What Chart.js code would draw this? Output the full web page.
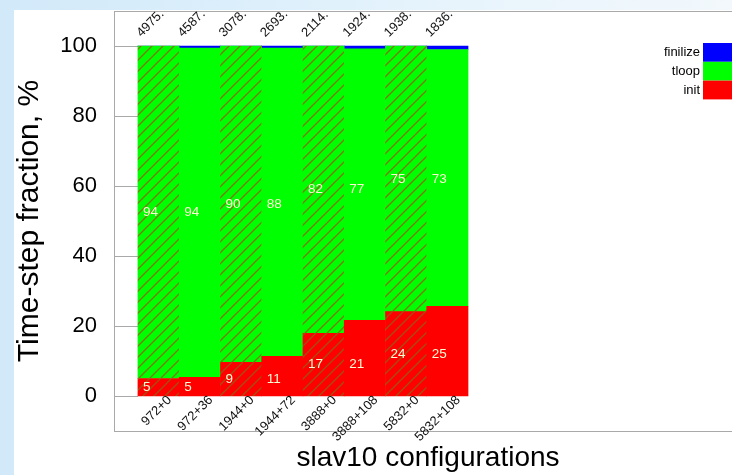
<!DOCTYPE html>
<html>
<head>
<meta charset="utf-8">
<script src="https://cdn.jsdelivr.net/npm/chart.js@4.4.1/dist/chart.umd.min.js"></script>
<style>
  html, body { margin: 0; padding: 0; width: 732px; height: 475px; overflow: hidden; }
  body { position: relative; background: linear-gradient(to right, #d2e9f9 0%, #dcefFb 35%, #eaf5fc 70%, #f2f8fc 100%); }
  #panel { position: absolute; left: 14px; top: 10px; width: 760px; height: 480px; background: #ffffff; }
  #wrap { position: absolute; left: 0; top: 0; width: 760px; height: 475px; }
</style>
</head>
<body>
<div id="panel"></div>
<div id="wrap"><canvas id="chart" width="760" height="475"></canvas></div>
<script>
// slav10 runs: share of each phase in one time step, %
const configs     = ['972+0', '972+36', '1944+0', '1944+72', '3888+0', '3888+108', '5832+0', '5832+108'];
const initPct     = [5.0, 5.3, 9.6, 11.3, 17.9, 21.6, 24.1, 25.6];
const tloopPct    = [94.95, 94.1, 90.35, 88.1, 82.05, 77.6, 75.85, 73.4];
const finilizePct = [0.05, 0.6, 0.05, 0.6, 0.05, 0.8, 0.05, 1.0];
// total run time printed above each bar
const totalTime   = [4975, 4587, 3078, 2693, 2114, 1924, 1938, 1836];
const yTickValues = [0, 20, 40, 60, 80, 100];

const FONT = '"Liberation Sans", Arial, Helvetica, sans-serif';
const canvas = document.getElementById('chart');
const ctx = canvas.getContext('2d');

// diagonal hatch used for the runs without extra processes ("+0")
function hatch(color) {
  const s = 11;
  const t = document.createElement('canvas');
  t.width = s; t.height = s;
  const g = t.getContext('2d');
  g.fillStyle = color;
  g.fillRect(0, 0, s, s);
  g.strokeStyle = 'rgba(145,95,20,0.8)';
  g.lineWidth = 1.4;
  g.beginPath();
  g.moveTo(-1, s + 1); g.lineTo(s + 1, -1);
  g.moveTo(-1, 1); g.lineTo(1, -1);
  g.moveTo(s - 1, s + 1); g.lineTo(s + 1, s - 1);
  g.stroke();
  return ctx.createPattern(t, 'repeat');
}

const isPlain = configs.map(c => c.endsWith('+0'));
function fills(color) {
  const p = hatch(color);
  return configs.map((c, i) => isPlain[i] ? p : color);
}
const points = arr => arr.map((v, i) => ({ x: i, y: v }));

const RED = '#ff0000', GREEN = '#00ff00', BLUE = '#0000ff';

// labels inside the bars are placed at the height of the matching "+0" run
function anchorIndex(i) {
  const base = configs[i].split('+')[0] + '+0';
  const j = configs.indexOf(base);
  return j >= 0 ? j : i;
}

const overlay = {
  id: 'overlay',
  beforeDatasetsDraw(chart) {
    const { ctx, chartArea: a, scales: { y } } = chart;
    ctx.save();
    ctx.strokeStyle = '#a9a9a9';
    ctx.lineWidth = 1;
    yTickValues.forEach(v => {
      const py = Math.round(y.getPixelForValue(v)) + 0.5;
      ctx.beginPath();
      ctx.moveTo(a.left, py);
      ctx.lineTo(a.left + 24, py);
      ctx.stroke();
    });
    ctx.restore();
  },
  afterDatasetsDraw(chart) {
    const { ctx, chartArea: a, scales: { x, y } } = chart;
    ctx.save();
    // frame
    ctx.strokeStyle = '#a9a9a9';
    ctx.lineWidth = 1;
    ctx.strokeRect(Math.round(a.left) + 0.5, Math.round(a.top) + 0.5, a.right - a.left, a.bottom - a.top);

    const half = (x.getPixelForValue(1) - x.getPixelForValue(0)) / 2;

    // percentages inside the bars
    ctx.font = '13.5px ' + FONT;
    ctx.fillStyle = '#fffbd2';
    ctx.textAlign = 'left';
    ctx.textBaseline = 'middle';
    configs.forEach((c, i) => {
      const j = anchorIndex(i);
      const left = x.getPixelForValue(i) - half + 5;
      ctx.fillText(String(Math.floor(initPct[i])), left, y.getPixelForValue(initPct[j] / 2));
      ctx.fillText(String(Math.floor(tloopPct[i])), left, y.getPixelForValue(initPct[j] + tloopPct[j] / 2));
    });

    // run time above the bars
    ctx.fillStyle = '#111';
    ctx.font = '13px ' + FONT;
    totalTime.forEach((t, i) => {
      ctx.save();
      ctx.translate(x.getPixelForValue(i) - half + 1, y.getPixelForValue(100) - 11);
      ctx.rotate(-Math.PI / 4);
      ctx.textAlign = 'left';
      ctx.textBaseline = 'middle';
      ctx.fillText(Math.floor(t) + '.', 0, 0);
      ctx.restore();
    });

    // configuration names under the bars
    ctx.font = '13px ' + FONT;
    configs.forEach((c, i) => {
      ctx.save();
      ctx.translate(x.getPixelForValue(i) + 11, y.getPixelForValue(0) + 2);
      ctx.rotate(-Math.PI / 4);
      ctx.textAlign = 'right';
      ctx.textBaseline = 'middle';
      ctx.fillText(c, 0, 0);
      ctx.restore();
    });

    // key, top entry first
    const keyTop = 43, row = 18.8, boxL = 703, boxW = 42;
    const ds = chart.data.datasets.slice().reverse();
    ctx.font = '13px ' + FONT;
    ctx.textAlign = 'right';
    ctx.textBaseline = 'middle';
    ds.forEach((d, k) => {
      const ty = keyTop + k * row;
      ctx.fillStyle = d.keyColor;
      ctx.fillRect(boxL, ty, boxW, row);
      ctx.fillStyle = '#000';
      ctx.fillText(d.label, boxL - 3, ty + row / 2);
    });
    ctx.restore();
  }
};

function noEdgePadding(s) {
  s.paddingTop = 0; s.paddingBottom = 0; s.paddingLeft = 0; s.paddingRight = 0;
}

new Chart(ctx, {
  type: 'bar',
  data: {
    datasets: [
      { label: 'init',     data: points(initPct),     backgroundColor: fills(RED),   keyColor: RED },
      { label: 'tloop',    data: points(tloopPct),    backgroundColor: fills(GREEN), keyColor: GREEN },
      { label: 'finilize', data: points(finilizePct), backgroundColor: fills(BLUE),  keyColor: BLUE }
    ]
  },
  options: {
    responsive: false,
    animation: false,
    events: [],
    layout: { padding: { top: 11, right: 18, left: 0, bottom: 0 } },
    datasets: { bar: { barPercentage: 1, categoryPercentage: 1, borderWidth: 0 } },
    plugins: { legend: { display: false }, tooltip: { enabled: false } },
    scales: {
      x: {
        type: 'linear', stacked: true, offset: false, min: -1.08, max: 14.14,
        afterBuildTicks(s) { s.ticks = configs.map((c, i) => ({ value: i })); },
        grid: { display: false, drawTicks: false },
        border: { display: false },
        ticks: { display: false },
        title: { display: true, text: 'slav10 configurations', color: '#000',
                 font: { family: FONT, size: 28 }, padding: { top: 0, bottom: 0 } },
        afterFit(s) { s.height = 44; noEdgePadding(s); }
      },
      y: {
        stacked: true, min: -10, max: 110,
        afterBuildTicks(s) { s.ticks = yTickValues.map(v => ({ value: v })); },
        grid: { display: false, drawTicks: false },
        border: { display: false },
        ticks: { color: '#000', padding: 17, font: { family: FONT, size: 22 } },
        title: { display: true, text: 'Time-step fraction, %', color: '#000',
                 font: { family: FONT, size: 30 }, padding: { top: 12, bottom: 0 } },
        afterFit(s) { s.width = 114; noEdgePadding(s); }
      }
    }
  },
  plugins: [overlay]
});
</script>
</body>
</html>
